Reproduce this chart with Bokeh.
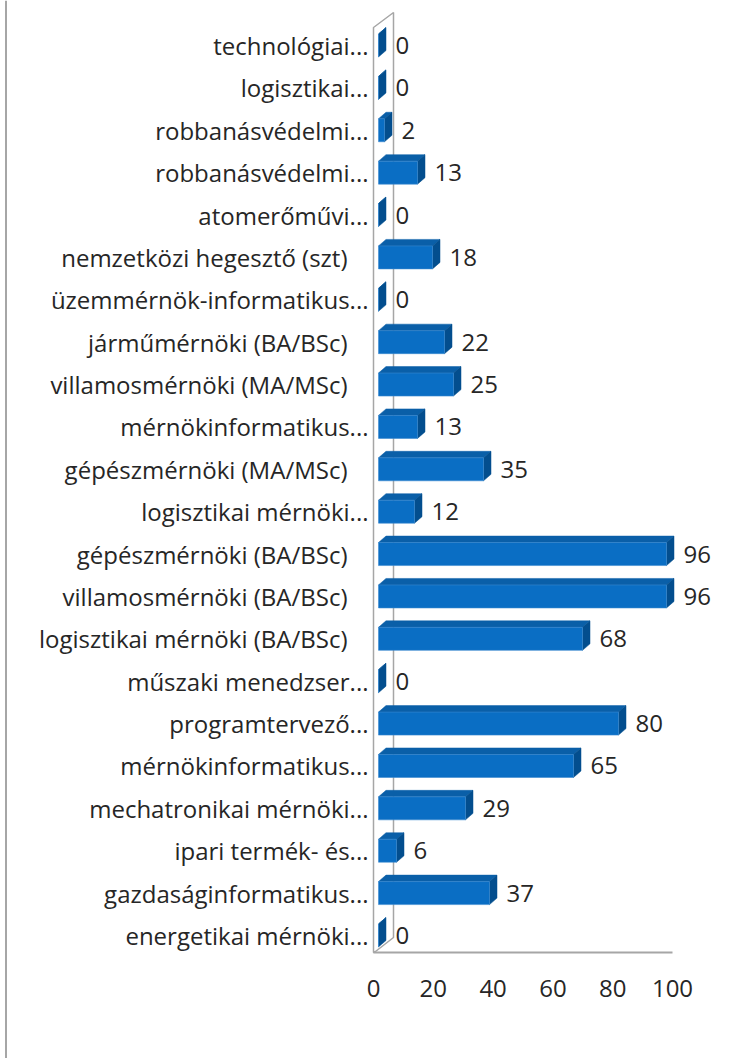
from bokeh.plotting import figure
from bokeh.models import Range1d
from bokeh.core.properties import value
from bokeh.embed import file_html
from bokeh.resources import INLINE

categories = [
    "technológiai...", "logisztikai...", "robbanásvédelmi...", "robbanásvédelmi...",
    "atomerőművi...", "nemzetközi hegesztő (szt)", "üzemmérnök-informatikus...",
    "járműmérnöki (BA/BSc)", "villamosmérnöki (MA/MSc)", "mérnökinformatikus...",
    "gépészmérnöki (MA/MSc)", "logisztikai mérnöki...", "gépészmérnöki (BA/BSc)",
    "villamosmérnöki (BA/BSc)", "logisztikai mérnöki (BA/BSc)", "műszaki menedzser...",
    "programtervező...", "mérnökinformatikus...", "mechatronikai mérnöki...",
    "ipari termék- és...", "gazdaságinformatikus...", "energetikai mérnöki...",
]
values = [0, 0, 2, 13, 0, 18, 0, 22, 25, 13, 35, 12, 96, 96, 68, 0, 80, 65, 29, 6, 37, 0]
tick_values = [0, 20, 40, 60, 80, 100]
tick_labels = ["0", "20", "40", "60", "80", "100"]

# pixel geometry helpers (image px -> data units)
PX_X = 3.0        # px per value unit
ROW = 42.38       # px per category row
X0 = 378.0        # image x of value 0
Y0 = 45.0         # image y of first row centre
def dx(px): return px / PX_X
def dy(px): return px / ROW
def X(img_x): return (img_x - X0) / PX_X
def Y(img_y): return (img_y - Y0) / ROW

W, H = 741, 1058
p = figure(width=W, height=H, output_backend="svg", toolbar_location=None,
           x_range=Range1d(X(0), X(W)), y_range=Range1d(Y(H), Y(0)),
           x_axis_location=None, y_axis_location=None, min_border=0)
p.grid.visible = False
p.outline_line_color = None
p.background_fill_color = "white"
p.border_fill_color = "white"

FONT = value("Open Sans")
TXT = "#262626"
FS = "24px"

# chart-area left border
p.line([X(5.5), X(5.5)], [Y(0), Y(H)], line_color="#A6A6A6", line_width=2)

# 3D wall and floor
wall_c = "#A6A6A6"
p.patch([X(373), X(393), X(393), X(375), X(373)],
        [Y(27), Y(12), Y(937), Y(951), Y(952)],
        fill_color="white", line_color=wall_c, line_width=1.5)
p.line([X(373), X(672)], [Y(952), Y(952)], line_color=wall_c, line_width=2)

# bars
h = dy(23)
ddx, ddy = dx(7.5), dy(6.5)
idx = list(range(len(categories)))
front_l, front_r, front_t, front_b = [], [], [], []
top_xs, top_ys, side_xs, side_ys = [], [], [], []
for i, v in zip(idx, values):
    t, b = i - h / 2, i + h / 2
    front_l.append(0); front_r.append(v); front_t.append(t); front_b.append(b)
    top_xs.append([0, v, v + ddx, ddx]); top_ys.append([t, t, t - ddy, t - ddy])
    side_xs.append([v, v + ddx, v + ddx, v]); side_ys.append([t, t - ddy, b - ddy, b])

p.patches(top_xs, top_ys, fill_color="#0A5FA8", line_color="#0A5FA8", line_width=0.5)
p.patches(side_xs, side_ys, fill_color="#034E8E", line_color="#034E8E", line_width=0.5)
p.quad(left=front_l, right=front_r, top=front_t, bottom=front_b,
       fill_color="#0A6EC4", line_color="#3A8AD0", line_width=0.6)

# category labels
offs = [-10 if c.endswith("...") else -31 for c in categories]
p.text(x=[0] * len(idx), y=idx, text=categories, x_offset=offs,
       text_align="right", text_baseline="middle", text_font=FONT,
       text_font_size=FS, text_color=TXT)

# value labels
p.text(x=values, y=idx, text=[str(v) for v in values], x_offset=17,
       text_align="left", text_baseline="middle", text_font=FONT,
       text_font_size=FS, text_color=TXT)

# x tick labels (front plane of the floor)
p.text(x=[X(373) + v * 2.99 / PX_X for v in tick_values], y=[Y(988)] * len(tick_values),
       text=tick_labels, text_align="center", text_baseline="middle",
       text_font=FONT, text_font_size=FS, text_color=TXT)

open("out.html", "w").write(file_html(p, INLINE))
